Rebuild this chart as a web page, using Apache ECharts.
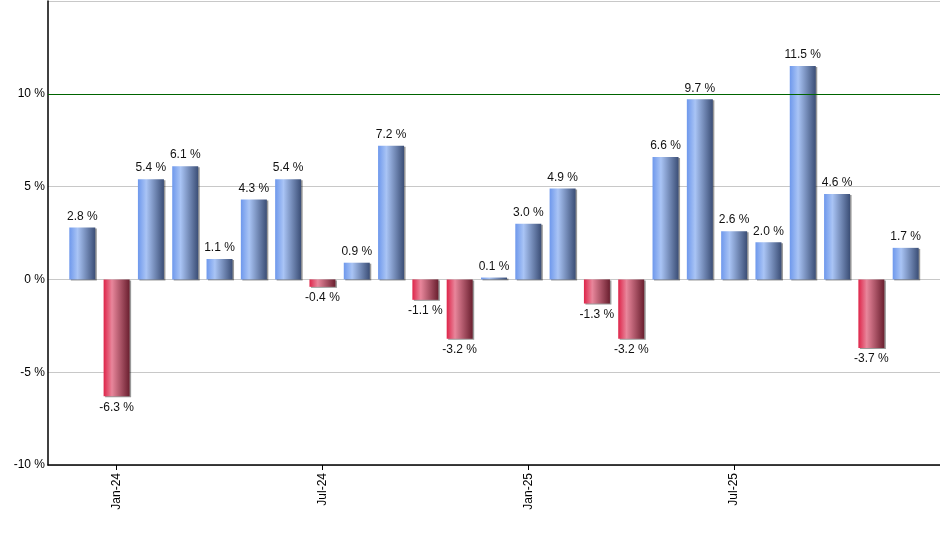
<!DOCTYPE html>
<html>
<head>
<meta charset="utf-8">
<script src="https://cdn.jsdelivr.net/npm/echarts@6/dist/echarts.min.js"></script>
<style>
  html, body { margin: 0; padding: 0; background: #fff; }
  #main { width: 940px; height: 550px; }
</style>
</head>
<body>
<div id="main"></div>
<script>
// monthly returns, Dec-23 .. Dec-25
var months = ['Dec-23', 'Jan-24', 'Feb-24', 'Mar-24', 'Apr-24', 'May-24', 'Jun-24', 'Jul-24',
  'Aug-24', 'Sep-24', 'Oct-24', 'Nov-24', 'Dec-24', 'Jan-25', 'Feb-25', 'Mar-25', 'Apr-25',
  'May-25', 'Jun-25', 'Jul-25', 'Aug-25', 'Sep-25', 'Oct-25', 'Nov-25', 'Dec-25'];
var returns = [2.8, -6.3, 5.4, 6.1, 1.1, 4.3, 5.4, -0.4, 0.9, 7.2, -1.1, -3.2, 0.1, 3.0, 4.9,
  -1.3, -3.2, 6.6, 9.7, 2.6, 2.0, 11.5, 4.6, -3.7, 1.7];
var tickMonths = [1, 7, 13, 19]; // Jan-24, Jul-24, Jan-25, Jul-25

var chart = echarts.init(document.getElementById('main'));

function grad(c0, c1, c2) {
  return new echarts.graphic.LinearGradient(0, 0, 1, 0, [
    { offset: 0, color: c0 },
    { offset: 0.32, color: c1 },
    { offset: 1, color: c2 }
  ]);
}
var blue = grad('#6e98ec', '#a9c4f5', '#3b4e76');
var red = grad('#de2449', '#e8869b', '#6a1f2f');

var barData = returns.map(function (v, i) {
  return {
    value: [i, v],
    itemStyle: { color: v >= 0 ? blue : red },
    label: { position: v >= 0 ? 'top' : 'bottom' }
  };
});

var option = {
  animation: false,
  backgroundColor: '#fff',
  grid: {
    left: 48,
    right: -6,
    top: 1,
    bottom: 85
  },
  xAxis: {
    type: 'value',
    min: -1,
    max: 25,
    axisLine: { show: true, onZero: false, lineStyle: { color: '#000', width: 1.5 } },
    axisTick: {
      show: true,
      customValues: tickMonths,
      length: 5,
      lineStyle: { color: '#000' }
    },
    axisLabel: {
      customValues: tickMonths,
      rotate: 90,
      margin: 8,
      color: '#000',
      fontFamily: 'Liberation Sans, Arial, sans-serif',
      fontSize: 12,
      formatter: function (v) { return months[v]; }
    },
    splitLine: { show: false }
  },
  yAxis: {
    type: 'value',
    min: -10,
    max: 15,
    interval: 5,
    axisLine: { show: true, onZero: false, lineStyle: { color: '#000', width: 1.5 } },
    axisTick: { show: false },
    axisLabel: {
      margin: 3,
      color: '#000',
      fontFamily: 'Liberation Sans, Arial, sans-serif',
      fontSize: 12,
      formatter: function (v) { return v === 15 ? '' : v + ' %'; }
    },
    splitLine: { show: true, lineStyle: { color: '#c8c8c8', width: 1 } }
  },
  series: [
    {
      type: 'bar',
      barWidth: 26,
      data: barData,
      itemStyle: {
        shadowColor: 'rgba(0,0,0,0.4)',
        shadowOffsetX: 1.5,
        shadowOffsetY: 1,
        shadowBlur: 0
      },
      label: {
        show: true,
        distance: 5,
        color: '#111',
        fontFamily: 'Liberation Sans, Arial, sans-serif',
        fontSize: 12,
        formatter: function (p) { return p.value[1].toFixed(1) + ' %'; }
      },
      markLine: {
        silent: true,
        symbol: 'none',
        label: { show: false },
        lineStyle: { color: '#006400', type: 'solid', width: 1 },
        data: [{ yAxis: 10 }]
      },
      z: 3
    }
  ]
};
chart.setOption(option);
</script>
</body>
</html>
